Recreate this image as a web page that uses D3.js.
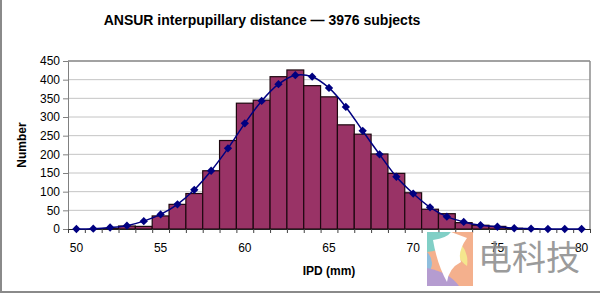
<!DOCTYPE html>
<html>
<head>
<meta charset="utf-8">
<script src="https://cdn.jsdelivr.net/npm/d3@7"></script>
<style>
  body { margin: 0; background: #fff; }
  svg { display: block; font-family: "Liberation Sans", Arial, sans-serif; }
</style>
</head>
<body>
<svg id="chart" width="600" height="294"></svg>
<script>
var ipd = d3.range(50, 81);
var counts = [0, 0, 1, 8, 7, 35, 66, 95, 156, 237, 337, 345, 408, 426, 384, 354, 279, 254, 201, 149, 97, 53, 41, 17, 10, 7, 2, 0, 0, 0, 0];
var fitted = [0, 1, 4, 9, 21, 39, 66, 105, 156, 216, 283, 343, 388, 412, 408, 378, 327, 263, 200, 140, 95, 58, 33, 19, 10, 6, 2, 1, 0, 0, 0];
var yTicks = [0, 50, 100, 150, 200, 250, 300, 350, 400, 450];
var xLabels = [50, 55, 60, 65, 70, 75, 80];

var margin = { top: 61, right: 10, bottom: 65, left: 68 };
var width = 600 - margin.left - margin.right;
var height = 294 - margin.top - margin.bottom;

var svg = d3.select('#chart');

// outer frame (left + bottom visible in the reference)
svg.append('line').attr('x1', 1).attr('x2', 1).attr('y1', 0).attr('y2', 292).attr('stroke', '#8a8a8a').attr('stroke-width', 2);
svg.append('line').attr('x1', 0).attr('x2', 600).attr('y1', 292).attr('y2', 292).attr('stroke', '#8a8a8a').attr('stroke-width', 2);

svg.append('text')
   .attr('x', 262).attr('y', 25)
   .attr('text-anchor', 'middle')
   .attr('font-size', 14).attr('font-weight', 'bold')
   .text('ANSUR interpupillary distance \u2014 3976 subjects');

var g = svg.append('g').attr('transform', `translate(${margin.left},${margin.top})`);

var x = d3.scaleBand().domain(ipd).range([0, width]).padding(0);
var xEdge = d3.scaleLinear().domain([49.5, 80.5]).range([0, width]);
var y = d3.scaleLinear().domain([0, 450]).range([height, 0]);

// gridlines
g.append('g').selectAll('line').data(yTicks.slice(1)).enter().append('line')
 .attr('x1', 0).attr('x2', width)
 .attr('y1', d => y(d)).attr('y2', d => y(d))
 .attr('stroke', '#c4c4c4').attr('stroke-width', 1);

// plot border top/right
g.append('line').attr('x1', 0).attr('x2', width).attr('y1', 0).attr('y2', 0).attr('stroke', '#8c8c8c').attr('stroke-width', 1.5);
g.append('line').attr('x1', width).attr('x2', width).attr('y1', 0).attr('y2', height).attr('stroke', '#8c8c8c').attr('stroke-width', 1.5);

// bars
g.append('g').selectAll('rect').data(counts).enter().append('rect')
 .attr('x', (d, i) => x(ipd[i]))
 .attr('y', d => y(d))
 .attr('width', x.bandwidth())
 .attr('height', d => height - y(d))
 .attr('fill', '#993366')
 .attr('stroke', '#1e0810').attr('stroke-width', 1.2);

// y axis
var yAxis = g.append('g')
 .call(d3.axisLeft(y).tickValues(yTicks).tickSize(5).tickSizeOuter(0).tickPadding(3));
yAxis.select('.domain').attr('stroke', '#808080');
yAxis.selectAll('.tick line').attr('stroke', '#808080');
yAxis.selectAll('text').attr('font-size', 12).attr('fill', '#000').attr('font-family', '"Liberation Sans", Arial, sans-serif');

// x axis: ticks at category boundaries, labels every 5
var xTickAxis = g.append('g').attr('transform', `translate(0,${height})`)
 .call(d3.axisBottom(xEdge).tickValues(d3.range(49.5, 81, 1)).tickSize(4).tickSizeOuter(0).tickFormat(''));
xTickAxis.select('.domain').attr('stroke', '#202020');
xTickAxis.selectAll('.tick line').attr('stroke', '#404040');

var xLabelAxis = g.append('g').attr('transform', `translate(0,${height})`)
 .call(d3.axisBottom(x).tickValues(xLabels).tickSize(0).tickPadding(14));
xLabelAxis.select('.domain').remove();
xLabelAxis.selectAll('text').attr('font-size', 12).attr('fill', '#000').attr('font-family', '"Liberation Sans", Arial, sans-serif');

// fitted curve
var line = d3.line()
 .x((d, i) => x(ipd[i]) + x.bandwidth() / 2)
 .y(d => y(d))
 .curve(d3.curveCatmullRom.alpha(0.5));

g.append('path').datum(fitted)
 .attr('d', line)
 .attr('fill', 'none')
 .attr('stroke', '#000080').attr('stroke-width', 1.5);

g.append('g').selectAll('path').data(fitted).enter().append('path')
 .attr('d', d3.symbol().type(d3.symbolDiamond2).size(44))
 .attr('transform', (d, i) => `translate(${x(ipd[i]) + x.bandwidth() / 2},${y(d)})`)
 .attr('fill', '#000080');

// axis titles
svg.append('text')
   .attr('transform', 'translate(26,145) rotate(-90)')
   .attr('text-anchor', 'middle')
   .attr('font-size', 12).attr('font-weight', 'bold')
   .text('Number');

svg.append('text')
   .attr('x', 329).attr('y', 275)
   .attr('text-anchor', 'middle')
   .attr('font-size', 12).attr('font-weight', 'bold')
   .text('IPD (mm)');

// watermark
var wm = svg.append('g').attr('transform', 'translate(427,232)').attr('opacity', 0.85);
wm.append('rect').attr('x', 0).attr('y', 0).attr('width', 46).attr('height', 54).attr('fill', '#f3a37a');
wm.append('path').attr('d', 'M0,0 L24,0 Q22,18 0,20 Z').attr('fill', '#6cc7bd');
wm.append('path').attr('d', 'M0,20 Q10,30 0,44 Z').attr('fill', '#7cb3d8');
wm.append('path').attr('d', 'M0,44 L0,54 L32,54 Q22,40 0,36 Z').attr('fill', '#a98bc8');
wm.append('path').attr('d', 'M34,12 Q42,22 40,34 Q34,30 30,22 Z').attr('fill', '#f3e27a');
wm.append('path').attr('d', 'M6,8 Q20,6 24,0 L40,6 Q30,20 34,30 Q22,36 20,50 Q10,32 6,8 Z').attr('fill', '#fff');
svg.append('text').attr('x', 478).attr('y', 270)
  .attr('font-size', 34).attr('fill', '#8a8a8a').attr('opacity', 0.85)
  .attr('font-family', '"Noto Sans CJK SC", sans-serif')
  .text('电科技');
</script>
</body>
</html>
